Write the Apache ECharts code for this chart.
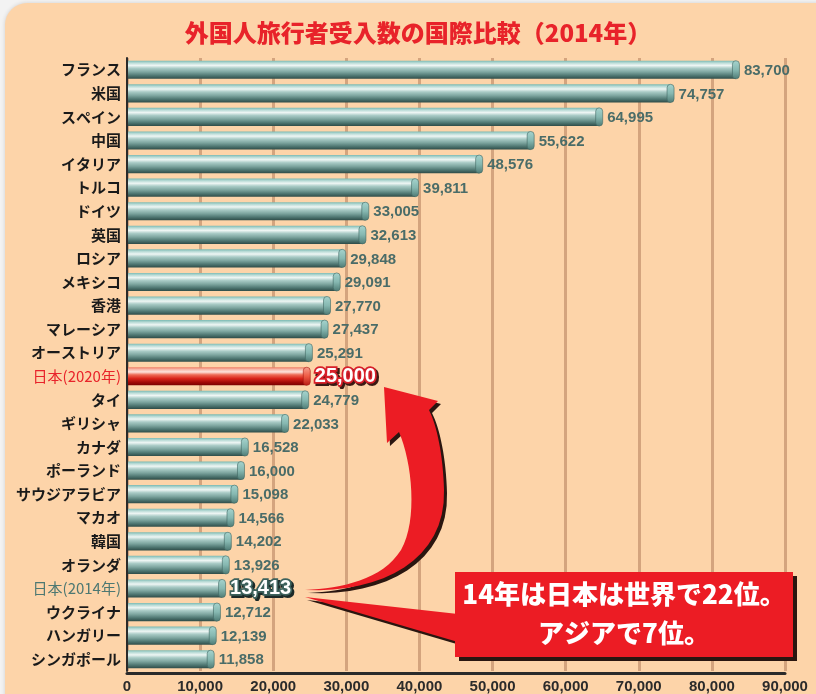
<!DOCTYPE html>
<html>
<head>
<meta charset="utf-8">
<script src="https://cdn.jsdelivr.net/npm/echarts@6/dist/echarts.min.js"></script>
<style>
  html, body { margin: 0; padding: 0; background: #f3f3f3; }
  #main { width: 816px; height: 694px; }
</style>
</head>
<body>
<div id="main"></div>
<script>
// データ
var categories = ['フランス', '米国', 'スペイン', '中国', 'イタリア', 'トルコ', 'ドイツ', '英国', 'ロシア', 'メキシコ',
  '香港', 'マレーシア', 'オーストリア', '日本(2020年)', 'タイ', 'ギリシャ', 'カナダ', 'ポーランド', 'サウジアラビア',
  'マカオ', '韓国', 'オランダ', '日本(2014年)', 'ウクライナ', 'ハンガリー', 'シンガポール'];
var values = [83700, 74757, 64995, 55622, 48576, 39811, 33005, 32613, 29848, 29091,
  27770, 27437, 25291, 25000, 24779, 22033, 16528, 16000, 15098,
  14566, 14202, 13926, 13413, 12712, 12139, 11858];
var xTicks = [0, 10000, 20000, 30000, 40000, 50000, 60000, 70000, 80000, 90000];

var target2020 = '日本(2020年)';
var japan2014 = '日本(2014年)';

var chartData = values.map(function (v, i) { return [v, i]; });

function grad(stops) {
  return {
    type: 'linear', x: 0, y: 0, x2: 0, y2: 1,
    colorStops: stops.map(function (s) { return { offset: s[0], color: s[1] }; })
  };
}

var tealBody = grad([[0, '#7bbab3'], [0.12, '#b9dbd6'], [0.26, '#eef6f4'], [0.42, '#a9cbc6'],
  [0.62, '#7ea6a0'], [0.82, '#4f7772'], [1, '#2e4c48']]);
var tealCap = grad([[0, '#a6d4ce'], [0.5, '#86b8b1'], [1, '#4d7a74']]);
var redBody = grad([[0, '#ee7a62'], [0.12, '#f7b6a6'], [0.26, '#fde4dc'], [0.42, '#ee6a55'],
  [0.62, '#d9261b'], [0.82, '#a40a08'], [1, '#780000']]);
var redCap = grad([[0, '#f7a08e'], [0.5, '#ee5a44'], [1, '#b51a12']]);

// 棒（円柱風）
function renderBar(params, api) {
  var val = api.value(0);
  var idx = api.value(1);
  var name = categories[idx];
  var p0 = api.coord([0, idx]);
  var p1 = api.coord([val, idx]);
  var h = api.size([0, 1])[1] * 0.77;
  var isRed = name === target2020;
  var endX = p1[0] - 3;
  var label = echarts.format.addCommas(val);
  var children = [
    { type: 'rect', shape: { x: p0[0] + 1, y: p1[1] - h / 2, width: endX - p0[0] - 1, height: h },
      style: { fill: isRed ? redBody : tealBody } },
    { type: 'rect', shape: { x: endX - 3.5, y: p1[1] - h / 2, width: 7, height: h, r: 3.5 },
      style: { fill: isRed ? redCap : tealCap, stroke: isRed ? '#a81810' : '#3f6661', lineWidth: 0.6 } }
  ];
  if (isRed) {
    children.push({ type: 'text', style: { text: label, x: p1[0] + 7, y: p1[1] + 2, verticalAlign: 'middle',
      fill: '#3a1a14', stroke: '#3a1a14', lineWidth: 4, font: 'bold 20px "Liberation Sans", Arial' } });
    children.push({ type: 'text', style: { text: label, x: p1[0] + 5, y: p1[1], verticalAlign: 'middle',
      fill: '#ffffff', stroke: '#d8202a', lineWidth: 3.5, font: 'bold 20px "Liberation Sans", Arial' } });
  } else if (name === japan2014) {
    children.push({ type: 'text', style: { text: label, x: p1[0] + 7, y: p1[1] + 2, verticalAlign: 'middle',
      fill: '#1c2a28', stroke: '#1c2a28', lineWidth: 4, font: 'bold 20px "Liberation Sans", Arial' } });
    children.push({ type: 'text', style: { text: label, x: p1[0] + 5, y: p1[1], verticalAlign: 'middle',
      fill: '#ffffff', stroke: '#3d625d', lineWidth: 3.5, font: 'bold 20px "Liberation Sans", Arial' } });
  } else {
    children.push({ type: 'text', style: { text: label, x: p1[0] + 5, y: p1[1] + 1, verticalAlign: 'middle',
      fill: '#4a6c68', font: 'bold 15px "Liberation Sans", Arial' } });
  }
  return { type: 'group', children: children };
}

// 曲線を点列にする
function cubic(pts, a, b, c, d) {
  for (var i = 1; i <= 16; i++) {
    var t = i / 16, u = 1 - t;
    pts.push([
      u * u * u * a[0] + 3 * u * u * t * b[0] + 3 * u * t * t * c[0] + t * t * t * d[0],
      u * u * u * a[1] + 3 * u * u * t * b[1] + 3 * u * t * t * c[1] + t * t * t * d[1]
    ]);
  }
}

var arrowPts = [[305, 590]];
cubic(arrowPts, [305, 590], [382, 593], [446, 560], [444, 490]);
cubic(arrowPts, [444, 490], [443, 455], [437, 426], [429, 410]);
arrowPts.push([438, 401], [384, 387], [387, 443], [399, 432]);
cubic(arrowPts, [399, 432], [412, 462], [418, 520], [401, 550]);
cubic(arrowPts, [401, 550], [382, 580], [342, 588], [305, 590]);
var wedgePts = [[305, 597], [458, 614], [458, 642]];

var myChart = echarts.init(document.getElementById('main'));

var option = {
  backgroundColor: '#f3f3f3',
  animation: false,
  graphic: [
    { type: 'rect', z: -10, shape: { x: 5, y: 3, width: 840, height: 730, r: 22 },
      style: { fill: '#fdd4a9', shadowColor: 'rgba(0,0,0,0.15)', shadowBlur: 4 } },
    { type: 'text', z: 5, style: { text: '外国人旅行者受入数の国際比較（2014年）', x: 418, y: 33,
      align: 'center', verticalAlign: 'middle', fill: '#e8232a',
      font: '900 24px "Noto Sans CJK JP"' } },
    { type: 'polygon', z: 20, x: 3, y: 3, shape: { points: arrowPts }, style: { fill: '#2a1610' } },
    { type: 'polygon', z: 21, shape: { points: arrowPts }, style: { fill: '#ec1c24' } },
    { type: 'polygon', z: 20, x: 2, y: 3, shape: { points: wedgePts }, style: { fill: '#2a1610' } },
    { type: 'polygon', z: 21, shape: { points: wedgePts }, style: { fill: '#ec1c24' } },
    { type: 'rect', z: 22, shape: { x: 459, y: 576, width: 338, height: 85 }, style: { fill: '#2a1610' } },
    { type: 'rect', z: 23, shape: { x: 455, y: 572, width: 338, height: 85 }, style: { fill: '#ec1c24' } },
    { type: 'text', z: 24, style: { text: '14年は日本は世界で22位。', x: 624, y: 594, align: 'center',
      verticalAlign: 'middle', fill: '#ffffff', font: '900 26px "Noto Sans CJK JP"' } },
    { type: 'text', z: 24, style: { text: 'アジアで7位。', x: 624, y: 633, align: 'center',
      verticalAlign: 'middle', fill: '#ffffff', font: '900 26px "Noto Sans CJK JP"' } }
  ],
  grid: { left: 127, right: 31, top: 58, bottom: 23 },
  xAxis: {
    type: 'value',
    min: xTicks[0],
    max: xTicks[xTicks.length - 1],
    interval: 10000,
    offset: 2,
    axisLine: { show: true, lineStyle: { color: '#2a2a2a', width: 3 } },
    axisTick: { show: false },
    axisLabel: {
      color: '#2b2b2b', fontSize: 15, fontWeight: 'bold', fontFamily: '"Liberation Sans", Arial', margin: 6,
      formatter: function (v) { return echarts.format.addCommas(v); }
    },
    splitLine: { show: true, lineStyle: { color: '#d4a47e', width: 3 } }
  },
  yAxis: {
    type: 'category',
    data: categories,
    inverse: true,
    axisLine: { show: true, lineStyle: { color: '#2a2a2a', width: 2 } },
    axisTick: { show: false },
    axisLabel: {
      margin: 6,
      color: '#1a1a1a', fontSize: 15, fontWeight: 'bold', fontFamily: '"Noto Sans CJK JP"',
      formatter: function (v) {
        if (v === target2020) return '{r|' + v + '}';
        if (v === japan2014) return '{t|' + v + '}';
        return v;
      },
      rich: {
        r: { color: '#e8232a', fontSize: 15, fontWeight: 'normal', fontFamily: '"Noto Sans CJK JP"' },
        t: { color: '#4d7872', fontSize: 15, fontWeight: 'normal', fontFamily: '"Noto Sans CJK JP"' }
      }
    }
  },
  series: [
    {
      type: 'custom',
      renderItem: renderBar,
      encode: { x: 0, y: 1 },
      data: chartData,
      z: 3
    }
  ]
};

myChart.setOption(option);
</script>
</body>
</html>
